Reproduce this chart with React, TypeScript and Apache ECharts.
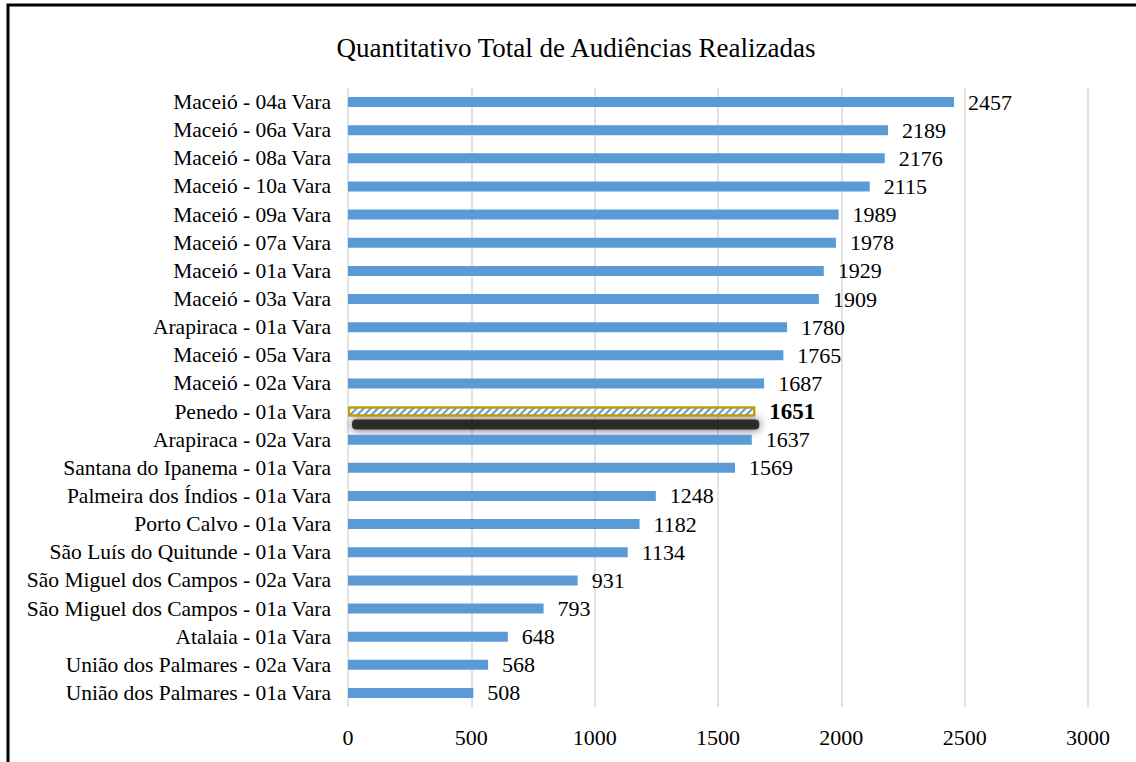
import React, { useEffect, useRef } from "react";
import * as echarts from "echarts";

const categories = [
  "Maceió - 04a Vara",
  "Maceió - 06a Vara",
  "Maceió - 08a Vara",
  "Maceió - 10a Vara",
  "Maceió - 09a Vara",
  "Maceió - 07a Vara",
  "Maceió - 01a Vara",
  "Maceió - 03a Vara",
  "Arapiraca - 01a Vara",
  "Maceió - 05a Vara",
  "Maceió - 02a Vara",
  "Penedo - 01a Vara",
  "Arapiraca - 02a Vara",
  "Santana do Ipanema - 01a Vara",
  "Palmeira dos Índios - 01a Vara",
  "Porto Calvo - 01a Vara",
  "São Luís do Quitunde - 01a Vara",
  "São Miguel dos Campos - 02a Vara",
  "São Miguel dos Campos - 01a Vara",
  "Atalaia - 01a Vara",
  "União dos Palmares - 02a Vara",
  "União dos Palmares - 01a Vara",
];

const values = [
  2457, 2189, 2176, 2115, 1989, 1978, 1929, 1909, 1780, 1765, 1687, 1651, 1637,
  1569, 1248, 1182, 1134, 931, 793, 648, 568, 508,
];

const highlighted = "Penedo - 01a Vara";
const title = "Quantitativo Total de Audiências Realizadas";

const FONT = "Liberation Serif";

export default function App() {
  const ref = useRef<HTMLDivElement>(null);

  useEffect(() => {
    if (!ref.current) return;
    const chart = echarts.init(ref.current, null, { renderer: "svg" });
    const hIdx = categories.indexOf(highlighted);
    const data = values.map((v, i) => {
      if (i === hIdx) {
        return {
          value: v,
          itemStyle: {
            color: "#ffffff",
            borderColor: "#C49A00",
            borderWidth: 2,
            decal: {
              symbol: "rect",
              color: "#5B9BD5",
              dashArrayX: [1, 0],
              dashArrayY: [2, 3],
              rotation: -Math.PI / 4,
            },
          },
          label: { fontWeight: "bold" as const, fontSize: 23 },
        };
      }
      return { value: v };
    });

    chart.setOption({
      animation: false,
      backgroundColor: "#ffffff",
      title: {
        text: title,
        left: 571,
        textAlign: "center",
        top: 29,
        textStyle: {
          fontFamily: FONT,
          fontSize: 27,
          fontWeight: "normal",
          color: "#000",
        },
      },
      grid: {
        left: 348,
        right: 48,
        top: 88,
        bottom: 55,
        containLabel: false,
      },
      xAxis: {
        type: "value",
        min: 0,
        max: 3000,
        interval: 500,
        axisLine: { show: false },
        axisTick: { show: false },
        splitLine: { show: true, lineStyle: { color: "#d9d9d9", width: 1.5 } },
        axisLabel: {
          margin: 19,
          fontFamily: FONT,
          fontSize: 22,
          color: "#000",
          formatter: (v: number) => String(v),
        },
      },
      yAxis: {
        type: "category",
        data: categories,
        inverse: true,
        axisLine: { show: false },
        axisTick: { show: false },
        axisLabel: {
          interval: 0,
          margin: 17,
          fontFamily: FONT,
          fontSize: 21.5,
          color: "#000",
        },
      },
      series: [
        {
          type: "custom",
          z: 1,
          silent: true,
          data: [[values[hIdx], hIdx]],
          encode: { x: 0, y: 1 },
          renderItem: (params: any, api: any) => {
            const start = api.coord([0, api.value(1)]);
            const end = api.coord([api.value(0), api.value(1)]);
            return {
              type: "rect",
              shape: {
                x: start[0] + 4,
                y: start[1] + 8,
                width: end[0] - start[0],
                height: 10,
                r: 4,
              },
              style: {
                fill: "rgba(25,25,25,0.85)",
                shadowBlur: 10,
                shadowColor: "rgba(0,0,0,0.8)",
              },
            };
          },
        },
        {
          type: "bar",
          z: 2,
          data,
          barWidth: 10,
          itemStyle: { color: "#5B9BD5" },
          label: {
            show: true,
            position: "right",
            distance: 14,
            fontFamily: FONT,
            fontSize: 22,
            color: "#000",
          },
        },
      ],
      graphic: [
        {
          type: "polyline",
          shape: {
            points: [
              [8, 762],
              [8, 5],
              [1136, 5],
            ],
          },
          style: { stroke: "#000", lineWidth: 3, fill: null },
          silent: true,
        },
      ],
    });
    return () => chart.dispose();
  }, []);

  return (
    <div
      ref={ref}
      style={{ position: "fixed", left: 0, top: 0, width: 1136, height: 762 }}
    />
  );
}
